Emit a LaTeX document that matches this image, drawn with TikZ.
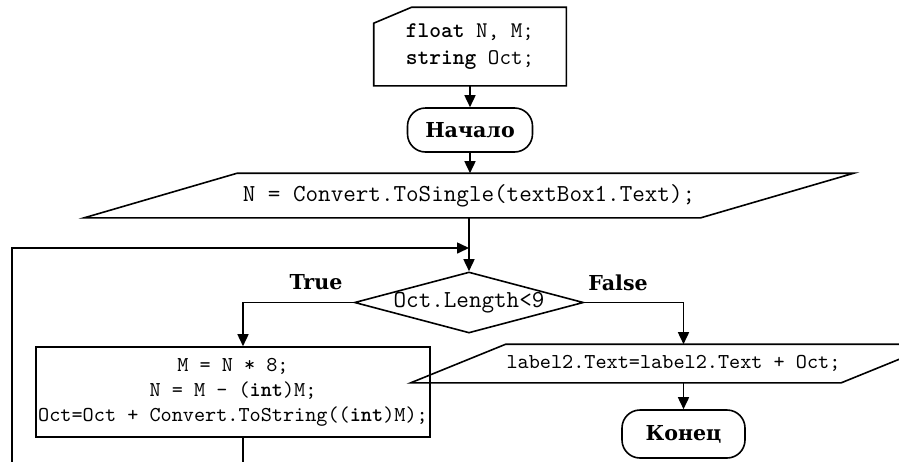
\documentclass[tikz,border=0pt]{standalone}
\usepackage{fontspec}
\setmainfont{DejaVu Serif}
\usepackage{tikz}
\usetikzlibrary{arrows.meta,calc,shapes.geometric}

\begin{document}
\begin{tikzpicture}[x=0.5pt,y=-0.5pt,line width=0.8pt,
    flow/.style={-{Triangle[length=6pt,width=5.5pt]}},
    term/.style={draw, rounded corners=9pt, inner sep=0pt, minimum height=22pt,
      font=\bfseries\fontsize{10.3}{12}\selectfont},
    lbl/.style={font=\bfseries\fontsize{10.3}{12}\selectfont},
    code/.style={inner sep=0pt, font=\ttfamily\fontsize{10.6}{12.5}\selectfont},
    codebig/.style={inner sep=0pt, font=\ttfamily\fontsize{12.2}{13}\selectfont}]
        \useasboundingbox (0,0) rectangle (899,461);
        \clip (0,0) rectangle (899,461);
        % Declarations (card)
        \node[code, font=\ttfamily\fontsize{11.2}{13.5}\selectfont, align=left,
          minimum width=95.5pt, minimum height=38.5pt] (decl) at (470,46.5)
          {\textbf{float} N, M;\\\textbf{string} Oct;};
        \draw (decl.south west) -- ($(decl.north west)+(0,16)$)
          -- ($(decl.north west)+(38,0)$) -- (decl.north east) -- (decl.south east) -- cycle;
        % Start
        \node[term, minimum width=62.5pt] (start) at (470,130) {Начало};
        % Input
        \node[codebig, minimum width=231pt, minimum height=21.5pt] (input) at (469,195.5)
          {N = Convert.ToSingle(textBox1.Text);};
        \draw (input.north west) -- ($(input.north east)+(153,0)$)
          -- (input.south east) -- ($(input.south west)+(-153,0)$) -- cycle;
        % Loop condition
        \node[draw, diamond, aspect=3.75, codebig, minimum width=114.5pt,
          minimum height=30.5pt] (cond) at (469,302.5) {Oct.Length<9};
        \node[lbl] (tlbl) at (316,282) {True};
        \node[lbl] (flbl) at (618,283) {False};
        % Loop body
        \node[draw, code, align=center, minimum width=197pt, minimum height=45pt]
          (body) at (233,392)
          {M = N * 8;\\N = M - (\textbf{int})M;\\Oct=Oct + Convert.ToString((\textbf{int})M);};
        % Output
        \node[code, minimum width=143.5pt, minimum height=18.5pt] (output) at (673.5,363.5)
          {label2.Text=label2.Text + Oct;};
        \draw (output.north west) -- ($(output.north east)+(95,0)$)
          -- (output.south east) -- ($(output.south west)+(-95,0)$) -- cycle;
        % End
        \node[term, minimum width=61.5pt, minimum height=24pt] (end) at (683.5,434) {Конец};
        % Connectors
        \coordinate (loopin) at (469,248);
        \coordinate (bodyout) at (243,475);
        \coordinate (loopbot) at (12,475);
        \draw[flow] (decl) -- (start);
        \draw[flow] (start) -- (input.north -| start.south);
        \draw[flow] (input.south -| cond.north) -- (cond.north);
        \draw[flow] (cond.west) -| ($(body.north)+(10,0)$);
        \draw[flow] (cond.east) -| (output.north -| end.north);
        \draw[flow] (output.south -| end.north) -- (end.north);
        \draw ($(body.south)+(10,0)$) -- (bodyout);
        \draw[flow] (loopbot) |- (loopin);
\end{tikzpicture}
\end{document}
